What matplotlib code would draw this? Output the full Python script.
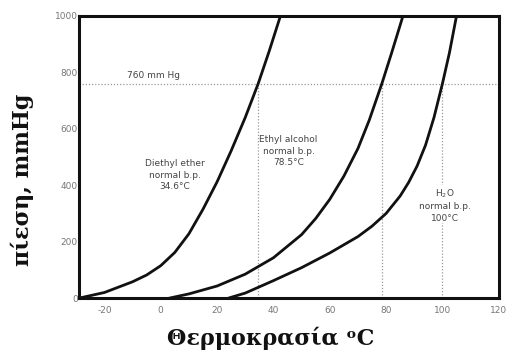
import matplotlib
matplotlib.use('Agg')
import matplotlib.pyplot as plt

plt.rcParams['axes.unicode_minus'] = False

# values (temperature in C, pressure in mmHg)
ether_t = [-29, -20, -10, -5, 0, 5, 10, 15, 20, 25, 30, 34.6, 38.5, 42.5]
ether_p = [0, 20, 58, 82, 115, 162, 228, 315, 412, 522, 640, 760, 875, 1000]

ethanol_t = [3, 10, 20, 30, 40, 50, 55, 60, 65, 70, 74, 78.5, 82, 86]
ethanol_p = [0, 15, 43, 85, 143, 225, 282, 350, 432, 530, 630, 760, 870, 1000]

water_t = [24, 30, 40, 50, 60, 70, 75, 80, 85, 88, 91, 94, 97, 100, 102.5, 105]
water_p = [0, 18, 62, 108, 160, 218, 255, 300, 362, 410, 468, 542, 640, 760, 870, 1000]

boiling_points = [34.6, 78.5, 100]
atm = 760

x_ticks = [-20, 0, 20, 40, 60, 80, 100, 120]
y_ticks = [0, 200, 400, 600, 800, 1000]

labels = ["Diethyl ether\nnormal b.p.\n34.6°C",
          "Ethyl alcohol\nnormal b.p.\n78.5°C",
          "H$_2$O\nnormal b.p.\n100°C"]
label_pos = [(4.9, 436), (45.4, 521), (101, 330)]

fig = plt.figure(figsize=(5.1, 3.52), dpi=100)
ax = fig.add_axes([0.155, 0.153, 0.823, 0.802])

gridc = "#999999"
ax.axhline(atm, color=gridc, lw=0.9, ls=(0, (1, 1.5)), zorder=1)
for bp in boiling_points:
    ax.plot([bp, bp], [0, atm], color=gridc, lw=0.9, ls=(0, (1, 1.5)), zorder=1)

for t, p in [(ether_t, ether_p), (ethanol_t, ethanol_p), (water_t, water_p)]:
    ax.plot(t, p, color="#111111", lw=2.0, zorder=3,
            solid_capstyle="round", solid_joinstyle="round")

txtc = "#444444"
for s, (x, y) in zip(labels, label_pos):
    ax.text(x, y, s, ha="center", va="center", fontsize=6.5, color=txtc,
            linespacing=1.35, zorder=2,
            bbox=dict(facecolor="white", edgecolor="none", pad=0.5))
ax.text(-2.5, 790, "760 mm Hg", ha="center", va="center", fontsize=6.5, color=txtc)

ax.set_xlim(-29, 119.5)
ax.set_ylim(0, 1000)
ax.set_xticks(x_ticks)
ax.set_yticks(y_ticks)
ax.tick_params(length=0, labelsize=6.5, labelcolor="#777777")
ax.tick_params(axis="x", pad=6)
ax.tick_params(axis="y", pad=1)
for sp in ax.spines.values():
    sp.set_linewidth(2.2)
    sp.set_color("#111111")

lab_font = dict(family=["DejaVu Serif", "DejaVu Sans"], weight="bold", size=16, color="#111111")
fig.text(0.043, 0.49, "πίεση, mmHg", rotation=90, ha="center", va="center", **lab_font)
fig.text(0.53, 0.04, "Θερμοκρασία ᵒC", ha="center", va="center", **lab_font)

fig.savefig("out.png", dpi=100, facecolor="white")
